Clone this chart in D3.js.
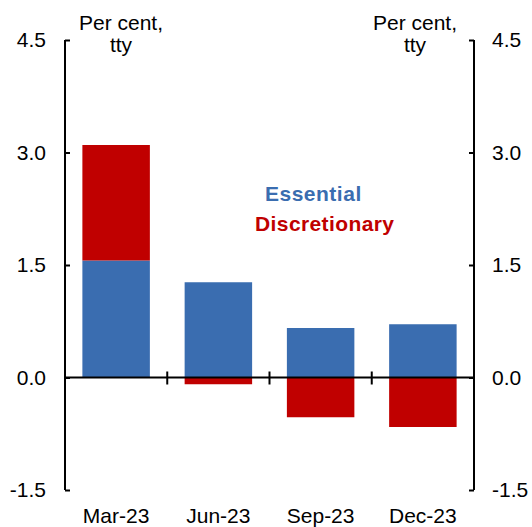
<!DOCTYPE html>
<html>
<head>
<meta charset="utf-8">
<script src="https://cdn.jsdelivr.net/npm/d3@7"></script>
<style>
  body { margin: 0; background: #fff; }
  text { font-family: "Liberation Sans", Arial, sans-serif; }
</style>
</head>
<body>
<div id="chart"></div>
<script>

// chart data
var quarters = ["Mar-23", "Jun-23", "Sep-23", "Dec-23"];
var essential = [1.56, 1.27, 0.66, 0.71];
var discretionary = [1.54, -0.09, -0.53, -0.66];
var yTicks = [-1.5, 0, 1.5, 3.0, 4.5];

var width = 532, height = 527;
var margin = {top: 40, right: 58, bottom: 37, left: 65};
var fs = 21;

var svg = d3.select("#chart").append("svg")
    .attr("width", width)
    .attr("height", height);

var x = d3.scaleBand()
    .domain(quarters)
    .range([margin.left, width - margin.right])
    .paddingInner(0.34)
    .paddingOuter(0.17);

var y = d3.scaleLinear()
    .domain([-1.5, 4.5])
    .range([height - margin.bottom, margin.top]);

var rows = quarters.map(function(q, i) {
    return {quarter: q, essential: essential[i], discretionary: discretionary[i]};
});

var stack = d3.stack()
    .keys(["essential", "discretionary"])
    .offset(d3.stackOffsetDiverging);

var colors = {essential: "#3a6db0", discretionary: "#c00000"};

svg.append("g")
    .selectAll("g")
    .data(stack(rows))
    .enter().append("g")
    .attr("fill", function(d) { return colors[d.key]; })
    .selectAll("rect")
    .data(function(d) { return d; })
    .enter().append("rect")
    .attr("x", function(d) { return x(d.data.quarter); })
    .attr("width", x.bandwidth())
    .attr("y", function(d) { return y(Math.max(d[0], d[1])); })
    .attr("height", function(d) { return Math.abs(y(d[0]) - y(d[1])); });

// left and right axes, ticks pointing in
var left = svg.append("g")
    .attr("transform", "translate(" + margin.left + ",0)")
    .call(d3.axisRight(y).tickValues(yTicks).tickSize(5).tickFormat(""));
var right = svg.append("g")
    .attr("transform", "translate(" + (width - margin.right) + ",0)")
    .call(d3.axisLeft(y).tickValues(yTicks).tickSize(5).tickFormat(""));

[left, right].forEach(function(a) {
    a.select(".domain").remove();
    a.selectAll("line").attr("stroke", "#000").attr("stroke-width", 2);
});

svg.append("line")
    .attr("x1", margin.left).attr("x2", margin.left)
    .attr("y1", y(4.5)).attr("y2", y(-1.5))
    .attr("stroke", "#000").attr("stroke-width", 2);
svg.append("line")
    .attr("x1", width - margin.right).attr("x2", width - margin.right)
    .attr("y1", y(4.5)).attr("y2", y(-1.5))
    .attr("stroke", "#000").attr("stroke-width", 2);

// tick labels
svg.append("g").selectAll("text")
    .data(yTicks)
    .enter().append("text")
    .attr("x", margin.left - 19)
    .attr("y", function(d) { return y(d); })
    .attr("dy", "0.35em")
    .attr("text-anchor", "end")
    .attr("font-size", fs)
    .text(function(d) { return d.toFixed(1); });

svg.append("g").selectAll("text")
    .data(yTicks)
    .enter().append("text")
    .attr("x", width - margin.right + 18)
    .attr("y", function(d) { return y(d); })
    .attr("dy", "0.35em")
    .attr("text-anchor", "start")
    .attr("font-size", fs)
    .text(function(d) { return d.toFixed(1); });

// zero line with category ticks
svg.append("line")
    .attr("x1", margin.left).attr("x2", width - margin.right)
    .attr("y1", y(0)).attr("y2", y(0))
    .attr("stroke", "#000").attr("stroke-width", 2);

var step = x.step();
svg.append("g").selectAll("line")
    .data(quarters.slice(1))
    .enter().append("line")
    .attr("x1", function(d) { return x(d) - x.paddingInner() * step / 2; })
    .attr("x2", function(d) { return x(d) - x.paddingInner() * step / 2; })
    .attr("y1", y(0) - 6).attr("y2", y(0) + 7)
    .attr("stroke", "#000").attr("stroke-width", 2);

svg.append("g").selectAll("text")
    .data(quarters)
    .enter().append("text")
    .attr("x", function(d) { return x(d) + x.bandwidth() / 2; })
    .attr("y", 522.5)
    .attr("text-anchor", "middle")
    .attr("font-size", fs)
    .text(function(d) { return d; });

// unit labels
[121, 415].forEach(function(cx) {
    var t = svg.append("text")
        .attr("x", cx)
        .attr("y", 30)
        .attr("text-anchor", "middle")
        .attr("font-size", fs);
    t.append("tspan").attr("x", cx).text("Per cent,");
    t.append("tspan").attr("x", cx).attr("dy", 21.5).text("tty");
});

// series labels
svg.append("text")
    .attr("x", 265).attr("y", 201)
    .attr("font-size", fs).attr("font-weight", "bold")
    .attr("letter-spacing", 0.5)
    .attr("fill", colors.essential)
    .text("Essential");
svg.append("text")
    .attr("x", 255).attr("y", 231)
    .attr("font-size", fs).attr("font-weight", "bold")
    .attr("letter-spacing", 0.4)
    .attr("fill", colors.discretionary)
    .text("Discretionary");

</script>
</body>
</html>
